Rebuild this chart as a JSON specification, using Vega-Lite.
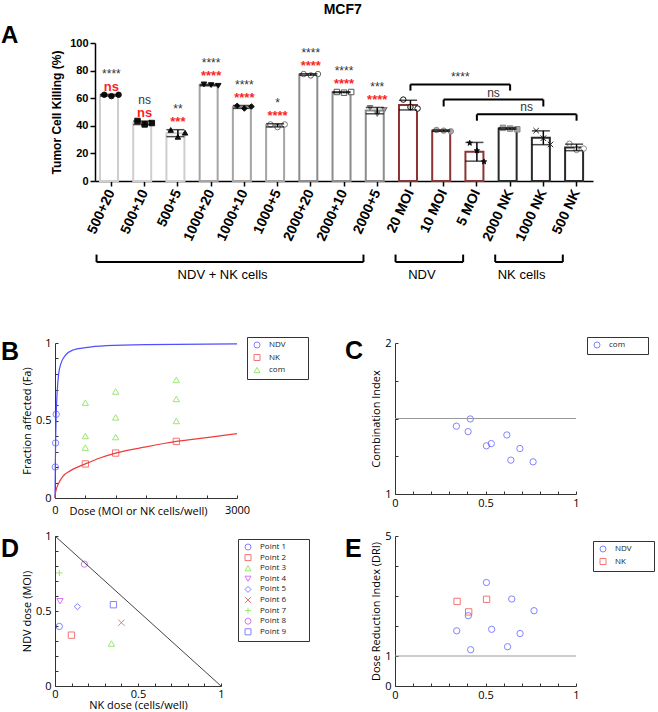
{
  "$schema": "https://vega.github.io/schema/vega-lite/v6.json",
  "padding": {"left": 1, "top": 3, "right": 0, "bottom": 0},
  "title": {"text": "MCF7", "anchor": "middle", "frame": "bounds", "font": "Liberation Sans", "fontSize": 14, "fontWeight": "bold", "color": "black", "dx": 15, "dy": 0, "offset": 7},
  "spacing": 54,
  "resolve": {"scale": {"color": "independent", "shape": "independent", "stroke": "independent", "fill": "independent"}},
  "vconcat": [
    {
      "width": 541,
      "height": 138,
      "title": {"text": "A", "dx": -54, "dy": 34, "fontSize": 24, "baseline": "alphabetic"},
      "resolve": {"scale": {"stroke": "independent"}, "axis": {"x": "independent", "y": "independent"}},
      "layer": [
        {
          "data": {"name": "killing"},
          "mark": {"type": "bar", "fill": "white", "strokeWidth": 2},
          "encoding": {
            "x": {
              "field": "group", "type": "nominal",
              "scale": {"domain": ["500+20", "500+10", "500+5", "1000+20", "1000+10", "1000+5", "2000+20", "2000+10", "2000+5", "20 MOI", "10 MOI", "5 MOI", "2000 NK", "1000 NK", "500 NK"], "range": [40, 538], "paddingInner": 0.31, "paddingOuter": 0.15},
              "axis": {"orient": "bottom", "title": null, "labelAngle": -65, "labelAlign": "right", "labelBaseline": "middle", "labelFont": "Liberation Sans", "labelFontWeight": "bold", "labelFontSize": 14, "labelPadding": 4, "tickSize": 5, "domainColor": "black", "tickColor": "black", "domainWidth": 1.5, "tickWidth": 1.5}
            },
            "y": {
              "aggregate": "mean", "field": "pct", "type": "quantitative",
              "scale": {"domain": [0, 100], "nice": false},
              "axis": {"orient": "left", "title": "Tumor Cell Killing (%)", "offset": -40, "values": [0, 20, 40, 60, 80, 100], "tickSize": 5, "labelFont": "Liberation Sans", "labelFontWeight": "bold", "labelFontSize": 11, "labelPadding": 2, "titleFont": "Liberation Sans", "titleFontWeight": "bold", "titleFontSize": 12, "titlePadding": 6, "domainColor": "black", "tickColor": "black", "domainWidth": 1.5, "tickWidth": 1.5}
            },
            "stroke": {
              "field": "group", "type": "nominal", "legend": null,
              "scale": {"domain": ["500+20", "500+10", "500+5", "1000+20", "1000+10", "1000+5", "2000+20", "2000+10", "2000+5", "20 MOI", "10 MOI", "5 MOI", "2000 NK", "1000 NK", "500 NK"],
                        "range": ["#cfcfcf", "#cfcfcf", "#cfcfcf", "#a5a5a5", "#a5a5a5", "#a5a5a5", "#8c8c8c", "#8c8c8c", "#8c8c8c", "#8a3434", "#8a3434", "#8a3434", "#2a2a2a", "#2a2a2a", "#2a2a2a"]}
            }
          }
        },
        {
          "data": {"name": "killing"},
          "mark": {"type": "point", "filled": true, "size": 30, "strokeWidth": 1, "opacity": 1},
          "encoding": {
            "x": {"field": "group", "type": "nominal", "axis": null},
            "xOffset": {"field": "rep", "type": "nominal", "scale": {"paddingOuter": 0.6}},
            "y": {"field": "pct", "type": "quantitative", "axis": null},
            "shape": {
              "field": "group", "type": "nominal", "legend": null,
              "scale": {"domain": ["500+20", "500+10", "500+5", "1000+20", "1000+10", "1000+5", "2000+20", "2000+10", "2000+5", "20 MOI", "10 MOI", "5 MOI", "2000 NK", "1000 NK", "500 NK"],
                        "range": ["circle", "square", "triangle-up", "triangle-down", "diamond", "circle", "circle", "square", "triangle-down", "circle", "circle", "M0,-1L0.24,-0.31L0.95,-0.31L0.38,0.12L0.59,0.81L0,0.4L-0.59,0.81L-0.38,0.12L-0.95,-0.31L-0.24,-0.31Z", "square", "M-1,-1L1,1M1,-1L-1,1", "circle"]}
            },
            "fill": {
              "field": "group", "type": "nominal", "legend": null,
              "scale": {"domain": ["500+20", "500+10", "500+5", "1000+20", "1000+10", "1000+5", "2000+20", "2000+10", "2000+5", "20 MOI", "10 MOI", "5 MOI", "2000 NK", "1000 NK", "500 NK"],
                        "range": ["#111111", "#111111", "#111111", "#111111", "#111111", "#ffffff", "#ffffff", "#ffffff", "#999999", "#ffffff", "#aaaaaa", "#111111", "#aaaaaa", "#ffffff", "#ffffff"]}
            },
            "stroke": {
              "field": "group", "type": "nominal", "legend": null,
              "scale": {"domain": ["500+20", "500+10", "500+5", "1000+20", "1000+10", "1000+5", "2000+20", "2000+10", "2000+5", "20 MOI", "10 MOI", "5 MOI", "2000 NK", "1000 NK", "500 NK"],
                        "range": ["#111111", "#111111", "#111111", "#111111", "#111111", "#777777", "#666666", "#555555", "#777777", "#111111", "#888888", "#111111", "#888888", "#222222", "#888888"]}
            }
          }
        },
        {
          "data": {"name": "killing"},
          "mark": {"type": "errorbar", "extent": "stdev", "ticks": true, "color": "black", "thickness": 1.5},
          "encoding": {
            "x": {"field": "group", "type": "nominal", "axis": null},
            "y": {"field": "pct", "type": "quantitative", "axis": null}
          }
        },
        {
          "data": {"name": "killing"},
          "transform": [
            {"aggregate": [{"op": "max", "field": "pct", "as": "top"}], "groupby": ["group"]},
            {"lookup": "group", "from": {"data": {"name": "sig"}, "key": "group", "fields": ["sig_a", "sig_b"]}},
            {"filter": "datum.sig_a"}
          ],
          "mark": {"type": "text", "baseline": "middle", "dy": -21, "font": "Liberation Sans", "fontSize": 12, "color": "#333333"},
          "encoding": {
            "x": {"field": "group", "type": "nominal", "axis": null},
            "y": {"field": "top", "type": "quantitative", "axis": null},
            "text": {"field": "sig_a"}
          }
        },
        {
          "data": {"name": "killing"},
          "transform": [
            {"aggregate": [{"op": "max", "field": "pct", "as": "top"}], "groupby": ["group"]},
            {"lookup": "group", "from": {"data": {"name": "sig"}, "key": "group", "fields": ["sig_a", "sig_b"]}},
            {"filter": "datum.sig_b"}
          ],
          "mark": {"type": "text", "baseline": "middle", "dy": -8, "font": "Liberation Sans", "fontSize": 13, "fontWeight": "bold", "color": "#ff1f1f"},
          "encoding": {
            "x": {"field": "group", "type": "nominal", "axis": null},
            "y": {"field": "top", "type": "quantitative", "axis": null},
            "text": {"field": "sig_b"}
          }
        },
        {
          "data": {"name": "brackets"},
          "mark": {"type": "rule", "color": "black", "strokeWidth": 2},
          "encoding": {
            "x": {"field": "from", "type": "nominal", "axis": null},
            "x2": {"field": "to"},
            "y": {"field": "level", "type": "quantitative", "axis": null}
          }
        },
        {
          "data": {"name": "brackets"},
          "mark": {"type": "rule", "color": "black", "strokeWidth": 2},
          "encoding": {
            "x": {"field": "from", "type": "nominal", "axis": null},
            "y": {"field": "level", "type": "quantitative", "axis": null},
            "y2": {"field": "tip"}
          }
        },
        {
          "data": {"name": "brackets"},
          "mark": {"type": "rule", "color": "black", "strokeWidth": 2},
          "encoding": {
            "x": {"field": "to", "type": "nominal", "axis": null},
            "y": {"field": "level", "type": "quantitative", "axis": null},
            "y2": {"field": "tip"}
          }
        },
        {
          "data": {"name": "brackets"},
          "mark": {"type": "text", "baseline": "middle", "dx": 16.6, "dy": -7, "font": "Liberation Sans", "fontSize": 12, "color": "#333333"},
          "encoding": {
            "x": {"field": "mid", "type": "nominal", "axis": null},
            "y": {"field": "level", "type": "quantitative", "axis": null},
            "text": {"field": "label"}
          }
        },
        {
          "data": {"name": "arms"},
          "mark": {"type": "rule", "color": "black", "strokeWidth": 2},
          "encoding": {
            "x": {"field": "first", "type": "nominal", "bandPosition": -0.15, "axis": null},
            "x2": {"field": "last", "bandPosition": -0.1},
            "y": {"datum": -58.7, "type": "quantitative", "axis": null}
          }
        },
        {
          "data": {"name": "arms"},
          "mark": {"type": "rule", "color": "black", "strokeWidth": 2},
          "encoding": {
            "x": {"field": "first", "type": "nominal", "bandPosition": -0.15, "axis": null},
            "y": {"datum": -58.7, "type": "quantitative", "axis": null},
            "y2": {"datum": -53.3}
          }
        },
        {
          "data": {"name": "arms"},
          "mark": {"type": "rule", "color": "black", "strokeWidth": 2},
          "encoding": {
            "x": {"field": "last", "type": "nominal", "bandPosition": -0.1, "axis": null},
            "y": {"datum": -58.7, "type": "quantitative", "axis": null},
            "y2": {"datum": -53.3}
          }
        },
        {
          "data": {"name": "arms"},
          "mark": {"type": "text", "baseline": "middle", "font": "Liberation Sans", "fontSize": 13, "color": "black"},
          "encoding": {
            "x": {"field": "at", "type": "nominal", "bandPosition": 1, "axis": null},
            "y": {"datum": -68, "type": "quantitative", "axis": null},
            "text": {"field": "label"}
          }
        }
      ]
    },
    {
      "spacing": 14,
      "resolve": {"scale": {"color": "independent", "shape": "independent", "stroke": "independent", "fill": "independent"}},
      "vconcat": [
        {
          "bounds": "flush",
          "spacing": 158,
          "resolve": {"scale": {"color": "independent", "shape": "independent", "stroke": "independent", "fill": "independent"}},
          "hconcat": [
            {
              "width": 182,
              "height": 155,
              "title": {"text": "B", "dx": -54, "dy": 52, "fontSize": 25, "baseline": "alphabetic"},
              "resolve": {"axis": {"x": "independent", "y": "independent"}},
              "layer": [
                {
                  "data": {"name": "fit"},
                  "mark": {"type": "line", "interpolate": "monotone", "strokeWidth": 1.2},
                  "encoding": {
                    "x": {
                      "field": "dose", "type": "quantitative",
                      "scale": {"domain": [0, 3000], "nice": false},
                      "axis": {"orient": "bottom", "values": [0, 500, 1000, 1500, 2000, 2500, 3000], "format": "d", "labelExpr": "datum.value == 0 || datum.value == 3000 ? datum.label : ''", "title": "Dose (MOI or NK cells/well)", "titleX": 83, "titleY": 13, "titleBaseline": "middle", "tickSize": -3, "labelPadding": 9}
                    },
                    "y": {
                      "field": "fa", "type": "quantitative",
                      "scale": {"domain": [0, 1], "nice": false},
                      "axis": {"orient": "left", "values": [0, 0.1, 0.2, 0.3, 0.4, 0.5, 0.6, 0.7, 0.8, 0.9, 1], "format": "~g", "labelExpr": "datum.value == 0 || datum.value == 0.5 || datum.value == 1 ? datum.label : ''", "title": "Fraction affected (Fa)", "tickSize": -3, "labelPadding": 7, "titlePadding": 3}
                    },
                    "stroke": {"field": "agent", "type": "nominal", "legend": null, "scale": {"domain": ["NDV", "NK"], "range": ["#4f4fff", "#ee3c3c"]}}
                  }
                },
                {
                  "data": {"name": "fa_obs"},
                  "mark": {"type": "point", "filled": false, "size": 40, "strokeWidth": 1},
                  "encoding": {
                    "x": {"field": "dose", "type": "quantitative", "axis": null},
                    "y": {"field": "fa", "type": "quantitative", "axis": null},
                    "color": {"field": "series", "type": "nominal", "scale": {"domain": ["NDV", "NK", "com"], "range": ["#4f4fff", "#ee3c3c", "#70dd3a"]},
                              "legend": {"title": null, "legendX": 192, "legendY": -6, "labelExpr": "datum.label + '⠀⠀⠀'"}},
                    "shape": {"field": "series", "type": "nominal", "scale": {"domain": ["NDV", "NK", "com"], "range": ["circle", "square", "triangle-up"]},
                              "legend": {"title": null, "legendX": 192, "legendY": -6, "labelExpr": "datum.label + '⠀⠀⠀'"}}
                  }
                }
              ]
            },
            {
              "width": 181,
              "height": 151,
              "title": {"text": "C", "dx": -50, "dy": 51, "fontSize": 25, "baseline": "alphabetic"},
              "resolve": {"axis": {"x": "independent", "y": "independent"}},
              "layer": [
                {
                  "data": {"name": "ci"},
                  "mark": {"type": "point", "filled": false, "size": 40, "strokeWidth": 1},
                  "encoding": {
                    "x": {
                      "field": "fa", "type": "quantitative",
                      "scale": {"domain": [0, 1], "nice": false},
                      "axis": {"orient": "bottom", "values": [0, 0.1, 0.2, 0.3, 0.4, 0.5, 0.6, 0.7, 0.8, 0.9, 1], "format": "~g", "labelExpr": "datum.value == 0 || datum.value == 0.5 || datum.value == 1 ? datum.label : ''", "title": null, "tickSize": -3, "labelPadding": 6}
                    },
                    "y": {
                      "field": "ci", "type": "quantitative",
                      "scale": {"domain": [1, 2], "nice": false, "zero": false},
                      "axis": {"orient": "left", "values": [1, 1.25, 1.5, 1.75, 2], "format": "~g", "labelExpr": "datum.value == 1 || datum.value == 2 ? datum.label : ''", "title": "Combination Index", "tickSize": -3, "labelPadding": 7, "titlePadding": 3}
                    },
                    "color": {"field": "series", "type": "nominal", "scale": {"domain": ["com"], "range": ["#4f4fff"]},
                              "legend": {"title": null, "legendX": 192, "legendY": -6, "labelExpr": "datum.label + '⠀⠀⠀'"}}
                  }
                },
                {
                  "data": {"values": [{}]},
                  "mark": {"type": "rule", "color": "#999999", "strokeWidth": 1},
                  "encoding": {"y": {"datum": 1.5, "type": "quantitative", "axis": null}}
                }
              ]
            }
          ]
        },
        {
          "bounds": "flush",
          "spacing": 174,
          "resolve": {"scale": {"color": "independent", "shape": "independent", "stroke": "independent", "fill": "independent"}},
          "hconcat": [
            {
              "width": 166,
              "height": 150,
              "title": {"text": "D", "dx": -54, "dy": 56, "fontSize": 25, "baseline": "alphabetic"},
              "resolve": {"axis": {"x": "independent", "y": "independent"}},
              "layer": [
                {
                  "data": {"name": "normalized"},
                  "mark": {"type": "point", "filled": false, "size": 40, "strokeWidth": 1},
                  "encoding": {
                    "x": {
                      "field": "nk", "type": "quantitative",
                      "scale": {"domain": [0, 1], "nice": false},
                      "axis": {"orient": "bottom", "values": [0, 0.1, 0.2, 0.3, 0.4, 0.5, 0.6, 0.7, 0.8, 0.9, 1], "format": "~g", "labelExpr": "datum.value == 0 || datum.value == 0.5 || datum.value == 1 ? datum.label : ''", "title": "NK dose (cells/well)", "titlePadding": 0, "tickSize": -3, "labelPadding": 5}
                    },
                    "y": {
                      "field": "ndv", "type": "quantitative",
                      "scale": {"domain": [0, 1], "nice": false},
                      "axis": {"orient": "left", "values": [0, 0.1, 0.2, 0.3, 0.4, 0.5, 0.6, 0.7, 0.8, 0.9, 1], "format": "~g", "labelExpr": "datum.value == 0 || datum.value == 0.5 || datum.value == 1 ? datum.label : ''", "title": "NDV dose (MOI)", "tickSize": -3, "labelPadding": 7, "titlePadding": 3}
                    },
                    "color": {"field": "point", "type": "nominal",
                              "scale": {"domain": ["Point 1", "Point 2", "Point 3", "Point 4", "Point 5", "Point 6", "Point 7", "Point 8", "Point 9"],
                                        "range": ["#4f4fff", "#ee3c3c", "#70dd3a", "#c040f0", "#4f4fff", "#ee3c3c", "#70dd3a", "#c040f0", "#4f4fff"]},
                              "legend": {"title": null, "legendX": 183, "legendY": 3, "rowPadding": 0.6, "labelExpr": "datum.label + '⠀⠀⠀'"}},
                    "shape": {"field": "point", "type": "nominal",
                              "scale": {"domain": ["Point 1", "Point 2", "Point 3", "Point 4", "Point 5", "Point 6", "Point 7", "Point 8", "Point 9"],
                                        "range": ["circle", "square", "triangle-up", "triangle-down", "diamond", "M-1,-1L1,1M1,-1L-1,1", "M-1,0L1,0M0,-1L0,1", "circle", "square"]},
                              "legend": {"title": null, "legendX": 183, "legendY": 3, "rowPadding": 0.6, "labelExpr": "datum.label + '⠀⠀⠀'"}}
                  }
                },
                {
                  "data": {"values": [{}]},
                  "mark": {"type": "rule", "color": "#444444", "strokeWidth": 1},
                  "encoding": {
                    "x": {"datum": 0, "type": "quantitative", "axis": null},
                    "y": {"datum": 1, "type": "quantitative", "axis": null},
                    "x2": {"datum": 1},
                    "y2": {"datum": 0}
                  }
                }
              ]
            },
            {
              "width": 181,
              "height": 150,
              "title": {"text": "E", "dx": -50, "dy": 56, "fontSize": 25, "baseline": "alphabetic"},
              "resolve": {"axis": {"x": "independent", "y": "independent"}},
              "layer": [
                {
                  "data": {"name": "dri"},
                  "mark": {"type": "point", "filled": false, "size": 40, "strokeWidth": 1},
                  "encoding": {
                    "x": {
                      "field": "fa", "type": "quantitative",
                      "scale": {"domain": [0, 1], "nice": false},
                      "axis": {"orient": "bottom", "values": [0, 0.1, 0.2, 0.3, 0.4, 0.5, 0.6, 0.7, 0.8, 0.9, 1], "format": "~g", "labelExpr": "datum.value == 0 || datum.value == 0.5 || datum.value == 1 ? datum.label : ''", "title": null, "tickSize": -3, "labelPadding": 6}
                    },
                    "y": {
                      "field": "dri", "type": "quantitative",
                      "scale": {"domain": [0, 5], "nice": false},
                      "axis": {"orient": "left", "values": [0, 1, 2, 3, 4, 5], "format": "~g", "labelExpr": "datum.value == 0 || datum.value == 1 || datum.value == 5 ? datum.label : ''", "title": "Dose Reduction Index (DRI)", "tickSize": -3, "labelPadding": 7, "titlePadding": 3}
                    },
                    "color": {"field": "agent", "type": "nominal", "scale": {"domain": ["NDV", "NK"], "range": ["#4f4fff", "#ee3c3c"]},
                              "legend": {"title": null, "legendX": 198, "legendY": 5, "labelExpr": "datum.label + '⠀⠀⠀'"}},
                    "shape": {"field": "agent", "type": "nominal", "scale": {"domain": ["NDV", "NK"], "range": ["circle", "square"]},
                              "legend": {"title": null, "legendX": 198, "legendY": 5, "labelExpr": "datum.label + '⠀⠀⠀'"}}
                  }
                },
                {
                  "data": {"values": [{}]},
                  "mark": {"type": "rule", "color": "#999999", "strokeWidth": 1},
                  "encoding": {"y": {"datum": 1, "type": "quantitative", "axis": null}}
                }
              ]
            }
          ]
        }
      ]
    }
  ],
  "config": {
    "view": {"stroke": null},
    "font": "Liberation Sans",
    "axis": {"grid": false, "labelFlush": false, "labelOverlap": false, "domainColor": "#333333", "tickColor": "#333333", "labelColor": "black", "titleColor": "black", "labelFont": "Open Sans", "titleFont": "Open Sans", "labelFontSize": 11, "titleFontSize": 11, "titleFontWeight": "normal"},
    "legend": {"orient": "none", "strokeColor": "#333333", "fillColor": "white", "padding": 4, "labelFont": "Open Sans", "labelFontSize": 8, "labelColor": "#222222", "symbolSize": 36, "symbolStrokeWidth": 1, "rowPadding": 2.5, "labelOffset": 8, "symbolOffset": 2},
    "title": {"font": "Liberation Sans", "fontWeight": "bold", "color": "black", "anchor": "start", "frame": "group", "offset": 0}
  },
  "datasets": {
    "killing": [
      {"group": "500+20", "rep": 1, "pct": 62.5}, {"group": "500+20", "rep": 2, "pct": 61.5}, {"group": "500+20", "rep": 3, "pct": 62.5},
      {"group": "500+10", "rep": 1, "pct": 43.5}, {"group": "500+10", "rep": 2, "pct": 41}, {"group": "500+10", "rep": 3, "pct": 42},
      {"group": "500+5", "rep": 1, "pct": 37}, {"group": "500+5", "rep": 2, "pct": 32}, {"group": "500+5", "rep": 3, "pct": 35},
      {"group": "1000+20", "rep": 1, "pct": 70}, {"group": "1000+20", "rep": 2, "pct": 69.5}, {"group": "1000+20", "rep": 3, "pct": 69},
      {"group": "1000+10", "rep": 1, "pct": 54.5}, {"group": "1000+10", "rep": 2, "pct": 52.5}, {"group": "1000+10", "rep": 3, "pct": 54},
      {"group": "1000+5", "rep": 1, "pct": 41}, {"group": "1000+5", "rep": 2, "pct": 39}, {"group": "1000+5", "rep": 3, "pct": 41},
      {"group": "2000+20", "rep": 1, "pct": 77.5}, {"group": "2000+20", "rep": 2, "pct": 76.5}, {"group": "2000+20", "rep": 3, "pct": 77.5},
      {"group": "2000+10", "rep": 1, "pct": 64.5}, {"group": "2000+10", "rep": 2, "pct": 64}, {"group": "2000+10", "rep": 3, "pct": 64.5},
      {"group": "2000+5", "rep": 1, "pct": 53}, {"group": "2000+5", "rep": 2, "pct": 48.5}, {"group": "2000+5", "rep": 3, "pct": 51.5},
      {"group": "20 MOI", "rep": 1, "pct": 59}, {"group": "20 MOI", "rep": 2, "pct": 53.5}, {"group": "20 MOI", "rep": 3, "pct": 52.5},
      {"group": "10 MOI", "rep": 1, "pct": 37}, {"group": "10 MOI", "rep": 2, "pct": 36.5}, {"group": "10 MOI", "rep": 3, "pct": 36},
      {"group": "5 MOI", "rep": 1, "pct": 27.5}, {"group": "5 MOI", "rep": 2, "pct": 22}, {"group": "5 MOI", "rep": 3, "pct": 14},
      {"group": "2000 NK", "rep": 1, "pct": 38.5}, {"group": "2000 NK", "rep": 2, "pct": 38}, {"group": "2000 NK", "rep": 3, "pct": 37.5},
      {"group": "1000 NK", "rep": 1, "pct": 36.5}, {"group": "1000 NK", "rep": 2, "pct": 31}, {"group": "1000 NK", "rep": 3, "pct": 26.5},
      {"group": "500 NK", "rep": 1, "pct": 27}, {"group": "500 NK", "rep": 2, "pct": 22.5}, {"group": "500 NK", "rep": 3, "pct": 23.5}
    ],
    "sig": [
      {"group": "500+20", "sig_a": "****", "sig_b": "ns"},
      {"group": "500+10", "sig_a": "ns", "sig_b": "ns"},
      {"group": "500+5", "sig_a": "**", "sig_b": "***"},
      {"group": "1000+20", "sig_a": "****", "sig_b": "****"},
      {"group": "1000+10", "sig_a": "****", "sig_b": "****"},
      {"group": "1000+5", "sig_a": "*", "sig_b": "****"},
      {"group": "2000+20", "sig_a": "****", "sig_b": "****"},
      {"group": "2000+10", "sig_a": "****", "sig_b": "****"},
      {"group": "2000+5", "sig_a": "***", "sig_b": "****"}
    ],
    "brackets": [
      {"from": "20 MOI", "to": "2000 NK", "mid": "10 MOI", "level": 70, "tip": 65.5, "label": "****"},
      {"from": "10 MOI", "to": "1000 NK", "mid": "5 MOI", "level": 59, "tip": 54, "label": "ns"},
      {"from": "5 MOI", "to": "500 NK", "mid": "2000 NK", "level": 48.3, "tip": 43.7, "label": "ns"}
    ],
    "arms": [
      {"label": "NDV + NK cells", "first": "500+20", "last": "2000+5", "at": "1000+20"},
      {"label": "NDV", "first": "20 MOI", "last": "5 MOI", "at": "20 MOI"},
      {"label": "NK cells", "first": "2000 NK", "last": "500 NK", "at": "2000 NK"}
    ],
    "fit": [
      {"agent": "NDV", "dose": 0, "fa": 0}, {"agent": "NDV", "dose": 1, "fa": 0.04}, {"agent": "NDV", "dose": 2, "fa": 0.08},
      {"agent": "NDV", "dose": 3, "fa": 0.12}, {"agent": "NDV", "dose": 5, "fa": 0.2}, {"agent": "NDV", "dose": 10, "fa": 0.355},
      {"agent": "NDV", "dose": 20, "fa": 0.54}, {"agent": "NDV", "dose": 35, "fa": 0.68}, {"agent": "NDV", "dose": 60, "fa": 0.8},
      {"agent": "NDV", "dose": 100, "fa": 0.87}, {"agent": "NDV", "dose": 170, "fa": 0.92}, {"agent": "NDV", "dose": 300, "fa": 0.955},
      {"agent": "NDV", "dose": 500, "fa": 0.97}, {"agent": "NDV", "dose": 850, "fa": 0.983}, {"agent": "NDV", "dose": 1500, "fa": 0.99},
      {"agent": "NDV", "dose": 3000, "fa": 0.994},
      {"agent": "NK", "dose": 0, "fa": 0}, {"agent": "NK", "dose": 5, "fa": 0.025}, {"agent": "NK", "dose": 25, "fa": 0.06},
      {"agent": "NK", "dose": 60, "fa": 0.095}, {"agent": "NK", "dose": 130, "fa": 0.14}, {"agent": "NK", "dose": 250, "fa": 0.175},
      {"agent": "NK", "dose": 500, "fa": 0.22}, {"agent": "NK", "dose": 750, "fa": 0.26}, {"agent": "NK", "dose": 1000, "fa": 0.29},
      {"agent": "NK", "dose": 1500, "fa": 0.33}, {"agent": "NK", "dose": 2000, "fa": 0.365}, {"agent": "NK", "dose": 2500, "fa": 0.39},
      {"agent": "NK", "dose": 3000, "fa": 0.415}
    ],
    "fa_obs": [
      {"series": "NDV", "dose": 5, "fa": 0.2}, {"series": "NDV", "dose": 10, "fa": 0.355}, {"series": "NDV", "dose": 20, "fa": 0.54},
      {"series": "NK", "dose": 500, "fa": 0.22}, {"series": "NK", "dose": 1000, "fa": 0.29}, {"series": "NK", "dose": 2000, "fa": 0.365},
      {"series": "com", "dose": 500, "fa": 0.615}, {"series": "com", "dose": 500, "fa": 0.4}, {"series": "com", "dose": 500, "fa": 0.325},
      {"series": "com", "dose": 1000, "fa": 0.687}, {"series": "com", "dose": 1000, "fa": 0.52}, {"series": "com", "dose": 1000, "fa": 0.393},
      {"series": "com", "dose": 2000, "fa": 0.762}, {"series": "com", "dose": 2000, "fa": 0.639}, {"series": "com", "dose": 2000, "fa": 0.497}
    ],
    "ci": [
      {"series": "com", "fa": 0.339, "ci": 1.449}, {"series": "com", "fa": 0.416, "ci": 1.497}, {"series": "com", "fa": 0.404, "ci": 1.413},
      {"series": "com", "fa": 0.505, "ci": 1.319}, {"series": "com", "fa": 0.532, "ci": 1.334}, {"series": "com", "fa": 0.618, "ci": 1.391},
      {"series": "com", "fa": 0.69, "ci": 1.301}, {"series": "com", "fa": 0.64, "ci": 1.224}, {"series": "com", "fa": 0.763, "ci": 1.213}
    ],
    "normalized": [
      {"point": "Point 1", "nk": 0.026, "ndv": 0.397}, {"point": "Point 2", "nk": 0.099, "ndv": 0.339}, {"point": "Point 3", "nk": 0.34, "ndv": 0.283},
      {"point": "Point 4", "nk": 0.03, "ndv": 0.565}, {"point": "Point 5", "nk": 0.135, "ndv": 0.529}, {"point": "Point 6", "nk": 0.4, "ndv": 0.422},
      {"point": "Point 7", "nk": 0.026, "ndv": 0.754}, {"point": "Point 8", "nk": 0.177, "ndv": 0.8125}, {"point": "Point 9", "nk": 0.352, "ndv": 0.542}
    ],
    "dri": [
      {"agent": "NDV", "fa": 0.505, "dri": 3.45}, {"agent": "NDV", "fa": 0.645, "dri": 2.9}, {"agent": "NDV", "fa": 0.768, "dri": 2.51},
      {"agent": "NDV", "fa": 0.405, "dri": 2.345}, {"agent": "NDV", "fa": 0.341, "dri": 1.84}, {"agent": "NDV", "fa": 0.534, "dri": 1.89},
      {"agent": "NDV", "fa": 0.691, "dri": 1.75}, {"agent": "NDV", "fa": 0.622, "dri": 1.31}, {"agent": "NDV", "fa": 0.418, "dri": 1.21},
      {"agent": "NK", "fa": 0.343, "dri": 2.82}, {"agent": "NK", "fa": 0.506, "dri": 2.89}, {"agent": "NK", "fa": 0.407, "dri": 2.47}
    ]
  }
}
